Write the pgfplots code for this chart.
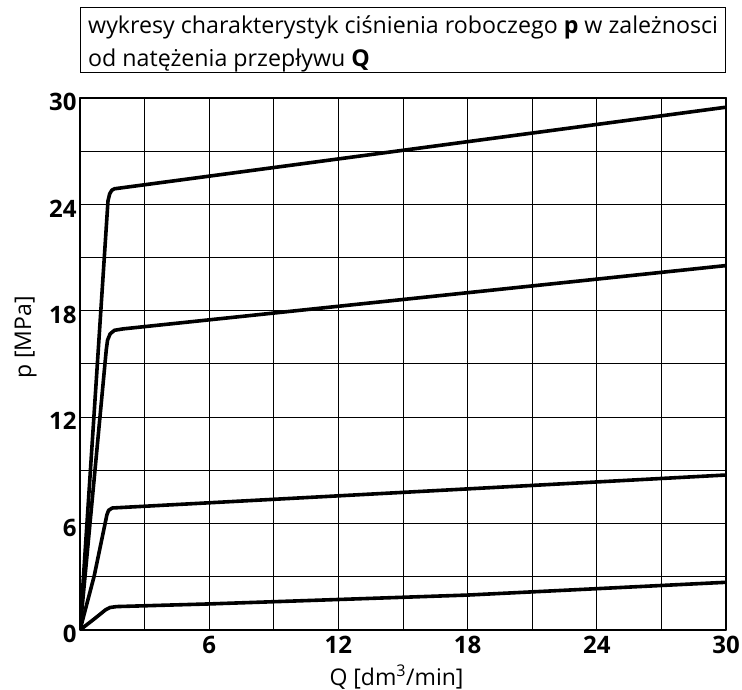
\documentclass[border=0pt]{standalone}
\usepackage{fontspec}
\setmainfont{Open Sans}
\usepackage{pgfplots}
\pgfplotsset{compat=1.18}
\begin{document}
\begin{tikzpicture}[x=1pt,y=1pt]
\path[use as bounding box] (0,0) rectangle (742,690);
\begin{axis}[
  at={(80pt,60pt)}, anchor=south west,
  scale only axis, width=646pt, height=532pt,
  xmin=0, xmax=30, ymin=0, ymax=30,
  xtick={6,12,18,24,30}, ytick={0,6,12,18,24,30},
  minor xtick={3,9,15,21,27}, minor ytick={3,9,15,21,27},
  grid=both,
  major grid style={black, line width=1pt},
  minor grid style={black, line width=1pt},
  axis line style={black, line width=1.3pt},
  major tick length=0pt, minor tick length=0pt,
  /pgf/number format/assume math mode=true,
  tick label style={font=\fontsize{24}{24}\selectfont\bfseries},
  xticklabel style={yshift=-2.5pt},
  yticklabel style={yshift=-4pt, xshift=0pt},
  xlabel={Q [dm\textsuperscript{3}/min]},
  ylabel={p [MPa]},
  label style={font=\fontsize{23}{23}\selectfont},
  xlabel style={at={(axis description cs:0.49,0)}, anchor=north, yshift=-31pt},
  ylabel style={at={(axis description cs:-0.084,0.55)}, anchor=center},
  line join=round, line cap=round,
]
\addplot[black, line width=3.6pt] coordinates {(0,0) (1.30,24.2) (1.38,24.6) (1.48,24.8) (1.6,24.88) (30,29.48)};
\addplot[black, line width=3.6pt] coordinates {(0,0) (1.22,15.8) (1.28,16.35) (1.4,16.7) (1.6,16.9) (2.0,16.98) (30,20.55)};
\addplot[black, line width=3.6pt] coordinates {(0,0) (0.66,3.05) (1.25,6.5) (1.33,6.75) (1.5,6.88) (30,8.74)};
\addplot[black, line width=3.6pt] coordinates {(0,0) (0.7,0.66) (1.2,1.15) (1.4,1.27) (1.7,1.32) (6,1.47) (12,1.72) (18,1.97) (24,2.33) (30,2.69)};
\end{axis}
\draw[line width=1pt] (80,617.3) rectangle (725,682.7);
\node[anchor=base west, inner sep=0pt, font=\fontsize{23.2}{23.2}\selectfont] at (88,656.7) {wykresy charakterystyk ciśnienia roboczego \textbf{p} w zależnosci};
\node[anchor=base west, inner sep=0pt, font=\fontsize{23.2}{23.2}\selectfont] at (88,623.3) {od natężenia przepływu \textbf{Q}};
\end{tikzpicture}
\end{document}
